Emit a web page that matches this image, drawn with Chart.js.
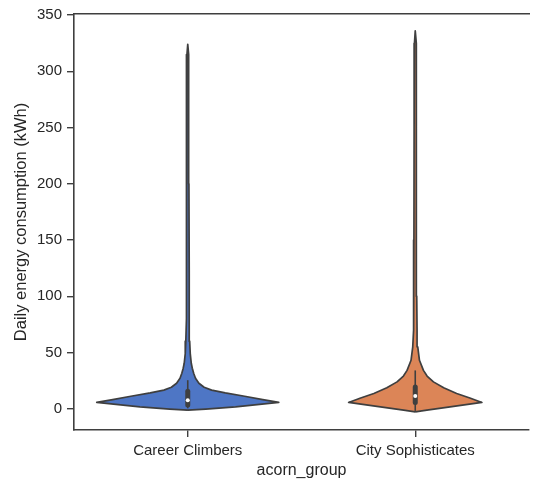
<!DOCTYPE html>
<html>
<head>
<meta charset="utf-8">
<script src="https://cdn.jsdelivr.net/npm/chart.js@4.4.1/dist/chart.umd.min.js"></script>
<style>
  html, body { margin: 0; padding: 0; background: #fff; }
</style>
</head>
<body>
<canvas id="violinChart" width="533" height="480"></canvas>
<script>
const categories = ['Career Climbers', 'City Sophisticates'];
const yTicks = [0, 50, 100, 150, 200, 250, 300, 350];

// violin outlines: kWh level -> half width (in category units)
const careerLevels = [-1.4, -0.4, 1.6, 5.5, 8, 11, 14, 16.5, 19, 22.6, 27, 31.5, 36, 40.4, 49, 60, 80, 120, 200, 280, 315, 324];
const careerWidths = [0, 0.079, 0.21, 0.40, 0.33, 0.25, 0.165, 0.105, 0.072, 0.049, 0.034, 0.026, 0.020, 0.0155, 0.011, 0.0085, 0.007, 0.006, 0.0052, 0.0045, 0.0035, 0];
const cityLevels = [-2.8, -1.3, 1.6, 5.5, 9.5, 13.5, 18.5, 23.8, 29, 34, 43, 55, 70, 100, 150, 250, 325, 336];
const cityWidths = [0, 0.051, 0.153, 0.293, 0.24, 0.182, 0.125, 0.080, 0.052, 0.036, 0.0185, 0.011, 0.008, 0.0065, 0.0058, 0.005, 0.0035, 0];

// inner box plot per category
const whiskerLow = [0.3, -2.0];
const q1 = [3.3, 5.5];
const median = [7.5, 11.2];
const q3 = [15.5, 19.3];
const whiskerHigh = [25.3, 34];

const fillColors = ['rgb(78, 118, 197)', 'rgb(220, 133, 87)'];
const edgeColor = '#3f3f3f';
const textColor = '#262626';
const fontFamily = '"Liberation Sans", Arial, sans-serif';

// walk up the right side and back down the left side
const outline = (center, levels, widths) => {
  const right = levels.map((y, i) => ({ x: center + widths[i], y }));
  const left = levels.map((y, i) => ({ x: center - widths[i], y })).reverse();
  return right.concat(left);
};

const profiles = [[careerLevels, careerWidths], [cityLevels, cityWidths]];

const datasets = [];
categories.forEach((cat, i) => {
  datasets.push({
    label: cat,
    data: outline(i, profiles[i][0], profiles[i][1]),
    showLine: true,
    fill: 'shape',
    backgroundColor: fillColors[i],
    borderColor: edgeColor,
    borderWidth: 1.7,
    borderJoinStyle: 'round',
    pointRadius: 0,
    tension: 0,
    order: 3
  });
  datasets.push({
    data: [{ x: i, y: whiskerLow[i] }, { x: i, y: whiskerHigh[i] }],
    showLine: true,
    borderColor: edgeColor,
    borderWidth: 1.6,
    pointRadius: 0,
    order: 2
  });
  datasets.push({
    data: [{ x: i, y: q1[i] }, { x: i, y: q3[i] }],
    showLine: true,
    borderColor: edgeColor,
    borderWidth: 5,
    borderCapStyle: 'round',
    pointRadius: 0,
    order: 1
  });
  datasets.push({
    data: [{ x: i, y: median[i] }],
    showLine: false,
    pointRadius: 2,
    pointBorderWidth: 0,
    pointBackgroundColor: '#ffffff',
    order: 0
  });
});

const axisGrid = {
  drawOnChartArea: false,
  drawTicks: true,
  tickLength: 7,
  tickColor: edgeColor,
  lineWidth: 1.4
};

new Chart(document.getElementById('violinChart').getContext('2d'), {
  type: 'scatter',
  data: { datasets },
  options: {
    responsive: false,
    animation: false,
    layout: { padding: { top: 13, right: 2, left: 0, bottom: 0 } },
    plugins: {
      legend: { display: false },
      tooltip: { enabled: false }
    },
    scales: {
      x: {
        type: 'linear',
        min: -0.5,
        max: 1.5,
        afterBuildTicks: (scale) => { scale.ticks = categories.map((c, i) => ({ value: i })); },
        afterFit: (scale) => { scale.height = 50; },
        ticks: {
          callback: (v) => categories[v],
          color: textColor,
          font: { family: fontFamily, size: 15 },
          padding: 5,
          maxRotation: 0
        },
        grid: axisGrid,
        border: { color: edgeColor, width: 1.6 },
        title: {
          display: true,
          text: 'acorn_group',
          color: textColor,
          font: { family: fontFamily, size: 16 },
          padding: { top: 0, bottom: 0 }
        }
      },
      xTop: {
        type: 'linear',
        position: 'top',
        min: -0.5,
        max: 1.5,
        afterFit: (scale) => { scale.height = 0; },
        ticks: { display: false },
        grid: { drawOnChartArea: false, drawTicks: false },
        border: { color: edgeColor, width: 1.6 }
      },
      y: {
        min: -19,
        max: 351,
        afterBuildTicks: (scale) => { scale.ticks = yTicks.map(v => ({ value: v })); },
        afterFit: (scale) => { scale.width = 74; },
        ticks: {
          color: textColor,
          font: { family: fontFamily, size: 15 },
          padding: 5
        },
        grid: axisGrid,
        border: { color: edgeColor, width: 1.6 },
        title: {
          display: true,
          text: 'Daily energy consumption (kWh)',
          color: textColor,
          font: { family: fontFamily, size: 16.5 },
          padding: { top: 12, bottom: 0 }
        }
      }
    }
  }
});
</script>
</body>
</html>
